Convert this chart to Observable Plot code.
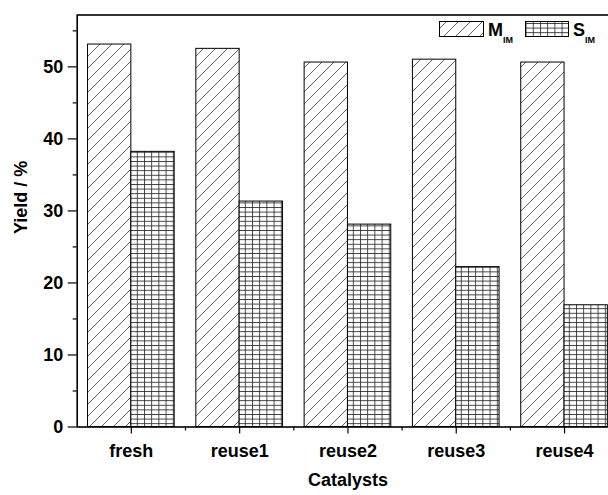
<!DOCTYPE html>
<html><head><meta charset="utf-8">
<script src="https://cdn.jsdelivr.net/npm/d3@7"></script>
<script src="https://cdn.jsdelivr.net/npm/@observablehq/plot@0.6"></script>
<style>
html,body{margin:0;padding:0;background:#fff;overflow:hidden;}
#wrap{position:relative;width:608px;height:495px;overflow:hidden;font-family:"Liberation Sans",Arial,sans-serif;font-weight:bold;}
#wrap svg{position:absolute;left:0;top:0;}
</style></head><body>
<div id="wrap"></div>
<script>
// ---- data ----
const categories = ["fresh", "reuse1", "reuse2", "reuse3", "reuse4"];
const seriesNames = ["M", "S"];
const mIM = [53.1, 52.5, 50.6, 51.0, 50.6];
const sIM = [38.2, 31.3, 28.1, 22.2, 16.9];
const yTicks = [0, 10, 20, 30, 40, 50];
const yMinorTicks = [5, 15, 25, 35, 45, 55];
const xLabel = "Catalysts";
const yLabel = "Yield / %";

const rows = categories.flatMap((c, i) => [
  {cat: c, series: "M", x1: i - 0.4, x2: i, value: mIM[i]},
  {cat: c, series: "S", x1: i, x2: i + 0.4, value: sIM[i]}
]);

const wrap = document.getElementById("wrap");

// overlay svg with pattern defs and legend
const defsSvg = d3.create("svg").attr("width", 608).attr("height", 495);
const defs = defsSvg.append("defs");
const pM = defs.append("pattern").attr("id", "hatchM").attr("patternUnits", "userSpaceOnUse")
  .attr("width", 12).attr("height", 12);
pM.append("rect").attr("width", 12).attr("height", 12).attr("fill", "white");
pM.append("path").attr("d", "M-1,1 L1,-1 M0,12 L12,0 M11,13 L13,11")
  .attr("stroke", "#4a4a4a").attr("stroke-width", 0.85).attr("fill", "none");
const pS = defs.append("pattern").attr("id", "gridS").attr("patternUnits", "userSpaceOnUse")
  .attr("width", 7.2).attr("height", 4.6);
pS.append("rect").attr("width", 7.2).attr("height", 4.6).attr("fill", "white");
pS.append("path").attr("d", "M0,0.5 H7.2 M0.5,0 V4.6")
  .attr("stroke", "#2a2a2a").attr("stroke-width", 0.85).attr("fill", "none");

const plot = Plot.plot({
  width: 608,
  height: 495,
  marginLeft: 76.7,
  marginRight: -10.2,
  marginTop: 14.5,
  marginBottom: 68.5,
  style: {fontFamily: '"Liberation Sans", Arial, sans-serif', fontSize: "18px", fontWeight: "bold", color: "black", background: "transparent", overflow: "visible"},
  x: {type: "linear", domain: [-0.5, 4.5]},
  y: {domain: [0, 57.2]},
  marks: [
    Plot.rectY(rows.filter(d => d.series === "M"), {x1: "x1", x2: "x2", y: "value", fill: "url(#hatchM)", stroke: "black", strokeWidth: 1}),
    Plot.rectY(rows.filter(d => d.series === "S"), {x1: "x1", x2: "x2", y: "value", fill: "url(#gridS)", stroke: "black", strokeWidth: 1}),
    Plot.frame({stroke: "black", strokeWidth: 1.6}),
    Plot.axisY({ticks: yTicks, tickSize: 9, tickPadding: 5, label: null, strokeWidth: 1.2}),
    Plot.axisY({ticks: yMinorTicks, tickSize: 4, tickFormat: () => "", label: null, strokeWidth: 1.2}),
    Plot.axisX({ticks: [0, 1, 2, 3, 4], tickFormat: i => categories[i], tickSize: 7, tickPadding: 10, label: null, strokeWidth: 1.2}),
    Plot.axisX({ticks: [0.5, 1.5, 2.5, 3.5], tickSize: 4, tickFormat: () => "", label: null, strokeWidth: 1.2}),
    Plot.text([xLabel], {frameAnchor: "bottom", dy: 58.5, text: d => d, fontSize: 18, fontWeight: "bold"}),
    Plot.text([yLabel], {frameAnchor: "left", rotate: -90, dx: -56, dy: 13, text: d => d, fontSize: 18, fontWeight: "bold"})
  ]
});
wrap.appendChild(plot);

// legend
const leg = defsSvg.append("g").attr("font-family", '"Liberation Sans", Arial, sans-serif').attr("font-weight", "bold");
leg.append("rect").attr("x", 439.5).attr("y", 21.5).attr("width", 44).attr("height", 15)
  .attr("fill", "url(#hatchM)").attr("stroke", "black").attr("stroke-width", 1);
const tM = leg.append("text").attr("x", 488).attr("y", 36).attr("font-size", 18).text("M");
tM.append("tspan").attr("font-size", 9).attr("dy", 7).text("IM");
leg.append("rect").attr("x", 525.5).attr("y", 21.5).attr("width", 43).attr("height", 15)
  .attr("fill", "url(#gridS)").attr("stroke", "black").attr("stroke-width", 1);
const tS = leg.append("text").attr("x", 573).attr("y", 36).attr("font-size", 18).text("S");
tS.append("tspan").attr("font-size", 9).attr("dy", 7).text("IM");
wrap.appendChild(defsSvg.node());
</script>
</body></html>
